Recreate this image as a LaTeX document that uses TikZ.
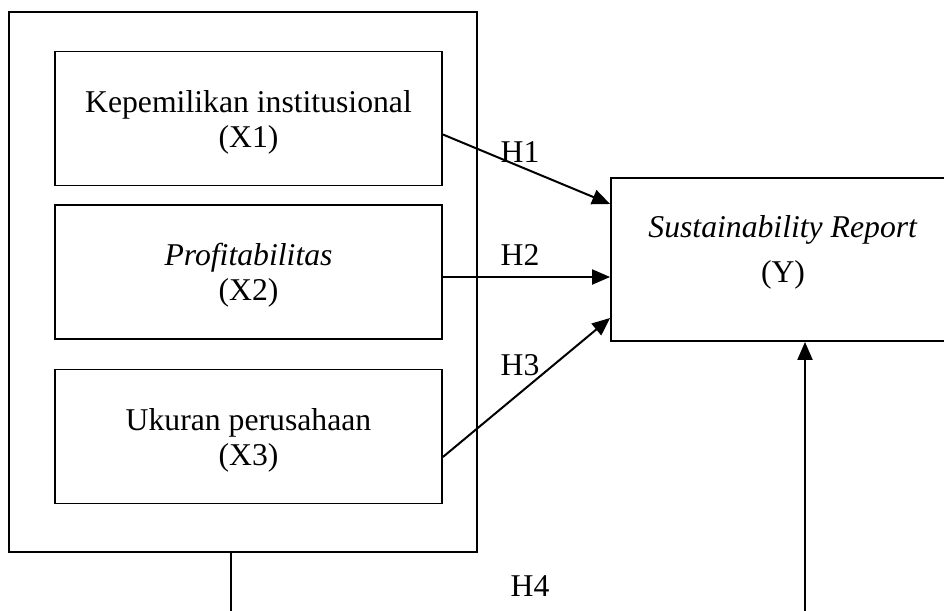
\documentclass[tikz,border=0pt]{standalone}
\usepackage{fontspec}
\setmainfont{Liberation Serif}
\usetikzlibrary{arrows.meta}

\begin{document}
\begin{tikzpicture}[x=1pt, y=-1pt,
    frame/.style={draw, line width=1.8pt},
    varbox/.style={draw, line width=1.8pt, minimum width=387pt, minimum height=134pt,
                   inner sep=0pt, align=center, text height=64pt, text depth=6.9pt,
                   font=\fontsize{31.7}{35}\selectfont},
    hlabel/.style={font=\fontsize{31.7}{35}\selectfont, inner sep=0pt},
    link/.style={line width=2pt, -{Triangle[length=18pt,width=15pt]}},
]
\useasboundingbox (0,0) rectangle (944,610);
\clip (0,0) rectangle (944,610);

% --- independent variables ---
\node[frame, minimum width=468pt, minimum height=540pt] (outer) at (243,282) {};
\node[varbox] (x1) at (248.5,118.5) {Kepemilikan institusional\\(X1)};
\node[varbox] (x2) at (248.5,272) {\textit{Profitabilitas}\\(X2)};
\node[varbox] (x3) at (248.5,436.5) {Ukuran perusahaan\\(X3)};

% --- dependent variable ---
\node[frame, minimum width=344pt, minimum height=163pt, inner sep=0pt, align=center,
      text height=52pt, text depth=6.9pt, font=\fontsize{31.7}{35}\selectfont] (y) at (783,259.5)
      {\textit{Sustainability Report}\\[10pt](Y)};

% Hypothesis arrows
\draw[link] ([yshift=-16pt]x1.east) -- ([yshift=55.5pt]y.west);
\draw[link] ([yshift=-5pt]x2.east) -- ([yshift=-17.5pt]y.west);
\draw[link] ([yshift=-20.5pt]x3.east) -- ([yshift=-58.5pt]y.west);
\draw[link] ([xshift=-12pt]outer.south) -- ++(0,80) -| ([xshift=22pt]y.south);

% Labels
\node[hlabel] (h1) at (520,152) {H1};
\node[hlabel] (h2) at (520,255) {H2};
\node[hlabel] (h3) at (520,365) {H3};
\node[hlabel] (h4) at (530,586) {H4};

\end{tikzpicture}
\end{document}
